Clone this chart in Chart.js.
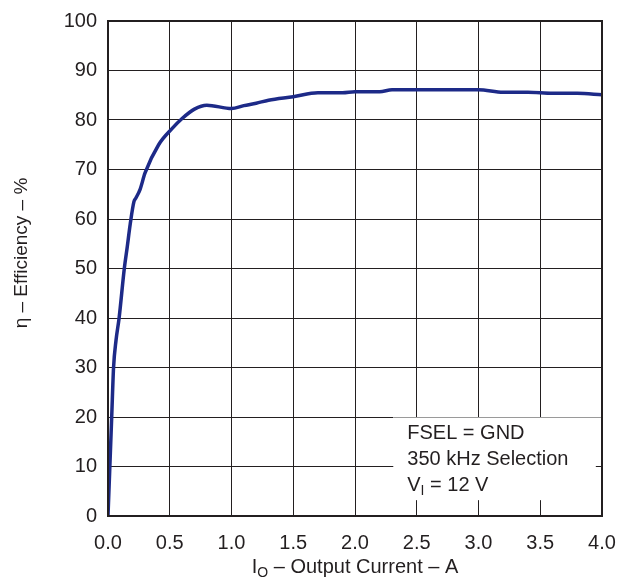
<!DOCTYPE html>
<html>
<head>
<meta charset="utf-8">
<script src="https://cdn.jsdelivr.net/npm/chart.js@4.4.1/dist/chart.umd.min.js"></script>
<style>
  html, body { margin: 0; padding: 0; background: #fff; }
  #wrap { width: 620px; height: 581px; position: relative; }
</style>
</head>
<body>
<div id="wrap"><canvas id="eff"></canvas></div>
<script>
// Efficiency vs output current, FSEL = GND (350 kHz), VI = 12 V
const currentA = [0, 0.015, 0.03, 0.045, 0.065, 0.09, 0.132, 0.156, 0.18, 0.21, 0.225, 0.26, 0.30, 0.41, 0.52, 0.60, 0.70, 0.80,
    1.0, 1.1, 1.2, 1.3, 1.5, 1.7, 1.9, 2.0, 2.2, 2.3, 3.0, 3.2, 3.4, 3.6, 3.8, 4.0];
const efficiencyPct = [0, 10, 20, 30, 35.5, 40, 50, 54.4, 59, 63.5, 64.2, 66, 69.3, 75, 78.3, 80.3, 82.2, 83.0,
    82.3, 82.9, 83.4, 84.0, 84.7, 85.5, 85.5, 85.7, 85.7, 86.1, 86.1, 85.6, 85.6, 85.4, 85.4, 85.1];

const xTicks = [0, 0.5, 1.0, 1.5, 2.0, 2.5, 3.0, 3.5, 4.0];
const yTicks = [0, 10, 20, 30, 40, 50, 60, 70, 80, 90, 100];
const noteLines = ['FSEL = GND', '350 kHz Selection', 'V|I| = 12 V'];

const INK = '#231f20';
const FONT = '"Liberation Sans", Arial, sans-serif';

// draws "main|sub|rest" with a lowered subscript
function drawSubText(ctx, str, x, y, size, align) {
    const parts = str.split('|');
    const subSize = Math.round(size * 0.72);
    ctx.font = size + 'px ' + FONT;
    let w = ctx.measureText(parts[0]).width;
    if (parts.length > 1) {
        ctx.font = subSize + 'px ' + FONT;
        w += ctx.measureText(parts[1]).width;
        ctx.font = size + 'px ' + FONT;
        w += ctx.measureText(parts[2]).width;
    }
    let cx = align === 'center' ? x - w / 2 : x;
    ctx.textAlign = 'left';
    ctx.textBaseline = 'middle';
    ctx.font = size + 'px ' + FONT;
    ctx.fillText(parts[0], cx, y);
    cx += ctx.measureText(parts[0]).width;
    if (parts.length > 1) {
        ctx.font = subSize + 'px ' + FONT;
        ctx.fillText(parts[1], cx, y + size * 0.3);
        cx += ctx.measureText(parts[1]).width;
        ctx.font = size + 'px ' + FONT;
        ctx.fillText(parts[2], cx, y);
    }
}

const decorations = {
    id: 'decorations',
    beforeDatasetsDraw(chart) {
        const { ctx, chartArea: a, scales } = chart;
        // note box sits over the grid in the lower right
        const bx = scales.x.getPixelForValue(2.31);
        const by = scales.y.getPixelForValue(20);
        const bx2 = scales.x.getPixelForValue(3.95);
        const by2 = scales.y.getPixelForValue(3.2);
        ctx.save();
        ctx.fillStyle = '#fff';
        ctx.fillRect(bx, by, bx2 - bx, by2 - by);
        ctx.strokeStyle = '#9a9a9a';
        ctx.lineWidth = 1;
        ctx.beginPath();
        ctx.moveTo(bx, by + 0.5);
        ctx.lineTo(a.right, by + 0.5);
        ctx.stroke();
        ctx.fillStyle = INK;
        noteLines.forEach((t, i) => drawSubText(ctx, t, bx + 14, by + 16 + i * 26, 20, 'left'));
        ctx.restore();
    },
    afterDraw(chart) {
        const { ctx, chartArea: a } = chart;
        ctx.save();
        ctx.strokeStyle = INK;
        ctx.lineWidth = 2;
        ctx.strokeRect(a.left, a.top, a.right - a.left, a.bottom - a.top);
        ctx.fillStyle = INK;
        // axis titles
        drawSubText(ctx, 'I|O| \u2013 Output Current \u2013 A', (a.left + a.right) / 2, 567, 20, 'center');
        ctx.translate(22, 253);
        ctx.rotate(-Math.PI / 2);
        drawSubText(ctx, '\u03b7 \u2013 Efficiency \u2013 %', 0, 0, 19, 'center');
        ctx.restore();
    }
};

new Chart(document.getElementById('eff'), {
    type: 'line',
    data: {
        datasets: [{
            data: currentA.map((x, i) => ({ x, y: efficiencyPct[i] })),
            borderColor: '#1d2a88',
            borderWidth: 3.5,
            pointRadius: 0,
            cubicInterpolationMode: 'monotone',
            fill: false
        }]
    },
    options: {
        responsive: true,
        maintainAspectRatio: false,
        animation: false,
        layout: { padding: { top: 21, right: 18, left: 0, bottom: 0 } },
        plugins: { legend: { display: false }, tooltip: { enabled: false } },
        scales: {
            x: {
                type: 'linear', min: 0, max: 4,
                afterBuildTicks: s => { s.ticks = xTicks.map(v => ({ value: v })); },
                afterFit: s => { s.height = 65; s.paddingLeft = 0; s.paddingRight = 0; },
                grid: { color: INK, lineWidth: 1, drawTicks: false },
                border: { display: false },
                ticks: { color: INK, padding: 15, font: { family: FONT, size: 20 }, callback: v => v.toFixed(1), maxRotation: 0 }
            },
            y: {
                min: 0, max: 100,
                afterBuildTicks: s => { s.ticks = yTicks.map(v => ({ value: v })); },
                afterFit: s => { s.width = 108; s.paddingTop = 0; s.paddingBottom = 0; },
                grid: { color: INK, lineWidth: 1, drawTicks: false },
                border: { display: false },
                ticks: { color: INK, padding: 11, font: { family: FONT, size: 20 } }
            }
        }
    },
    plugins: [decorations]
});
</script>
</body>
</html>
